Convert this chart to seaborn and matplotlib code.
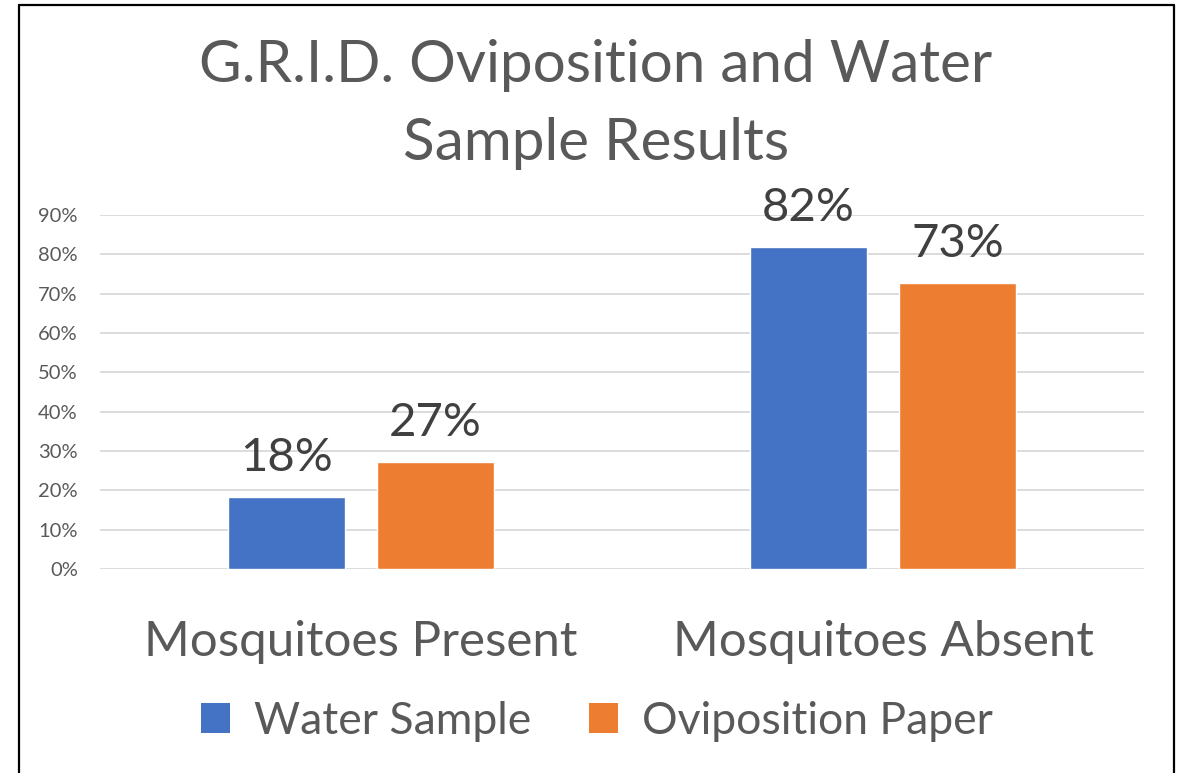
import matplotlib
matplotlib.use("Agg")
import matplotlib.pyplot as plt
import seaborn as sns
import pandas as pd
from matplotlib.patches import Patch
from matplotlib.lines import Line2D
from matplotlib.ticker import PercentFormatter

categories = ["Mosquitoes Present", "Mosquitoes Absent"]
series_names = ["Water Sample", "Oviposition Paper"]
water_sample = [0.182, 0.818]
oviposition_paper = [0.273, 0.727]
title_lines = ["G.R.I.D. Oviposition and Water", "Sample Results"]
colors = ["#4472C4", "#ED7D31"]

df = pd.DataFrame({
    "category": categories * 2,
    "series": [series_names[0]] * 2 + [series_names[1]] * 2,
    "value": water_sample + oviposition_paper,
})

sns.set_theme(style="white")
plt.rcParams["font.family"] = ["Lato", "DejaVu Sans"]
TXT = "#595959"

W, H = 1183, 773
fig = plt.figure(figsize=(W / 100, H / 100), dpi=100)
ax = fig.add_axes([100 / W, 1 - 569 / H, (1144 - 100) / W, (569 - 215) / H])

sns.barplot(data=df, x="category", y="value", hue="series", palette=colors,
            width=0.572, gap=0.216, ax=ax, legend=False, saturation=1,
            order=categories, hue_order=series_names)

ax.set_ylim(0, 0.9)
ax.set_xlim(-0.5, 1.5)
ax.set_yticks([i / 10 for i in range(10)])
ax.yaxis.set_major_formatter(PercentFormatter(1.0, decimals=0))
ax.grid(axis="y", color="#D9D9D9", linewidth=1.3)
ax.set_axisbelow(True)
for s in ax.spines.values():
    s.set_visible(False)
ax.set_xlabel("")
ax.set_ylabel("")
ax.tick_params(axis="y", length=0, pad=16, labelsize=14.5, labelcolor=TXT)
ax.tick_params(axis="x", length=0, pad=37, labelsize=35.5, labelcolor=TXT)

for cont in ax.containers:
    ax.bar_label(cont, labels=[f"{v*100:.0f}%" for v in cont.datavalues],
                 fontsize=34, color="#404040", padding=13, clip_on=False)

fig.text(596 / W, 1 - 66 / H, title_lines[0], ha="center", va="center",
         fontsize=42, color=TXT)
fig.text(596 / W, 1 - 143 / H, title_lines[1], ha="center", va="center",
         fontsize=42, color=TXT)

handles = [Patch(facecolor=c, edgecolor="none") for c in colors]
fig.legend(handles, series_names, loc="center", bbox_to_anchor=(597 / W, 1 - 721 / H),
           ncol=2, frameon=False, fontsize=32, labelcolor=TXT,
           handlelength=0.64, handleheight=0.64, handletextpad=0.55, columnspacing=1.3)

# outer border
bx0, bx1, by0 = 19 / W, 1174 / W, 1 - 5 / H
for xs, ys in [([bx0, bx0], [0, by0]), ([bx0, bx1], [by0, by0]), ([bx1, bx1], [by0, 0])]:
    fig.add_artist(Line2D(xs, ys, color="black", linewidth=1.6, transform=fig.transFigure))

fig.savefig("out.png", dpi=100, facecolor="white")
